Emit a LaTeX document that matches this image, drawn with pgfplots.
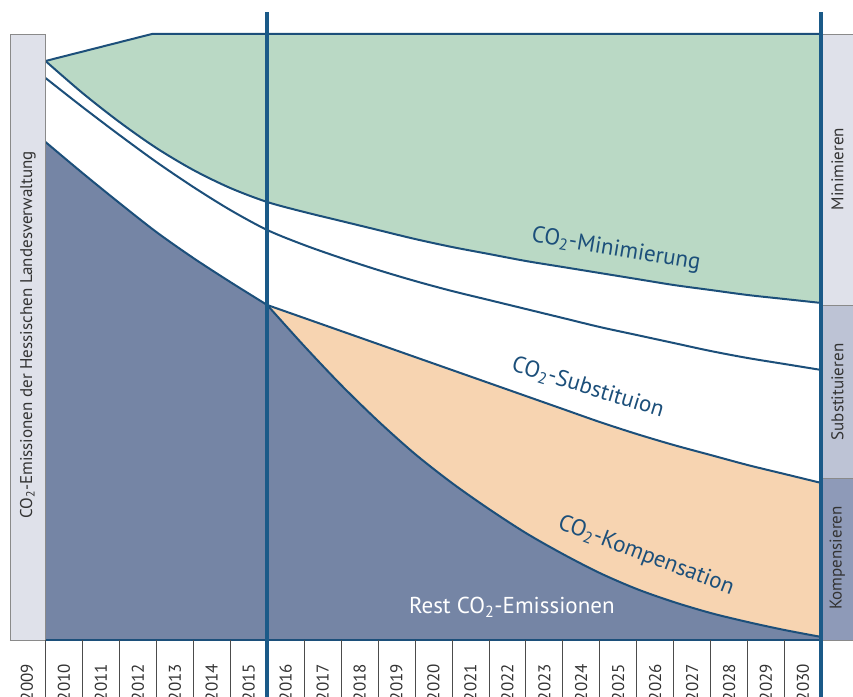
\documentclass[border=0pt]{standalone}
\usepackage{fontspec}
\setmainfont{PT Sans}
\usepackage{pgfplots}
\pgfplotsset{compat=1.18}
\usepgfplotslibrary{fillbetween}
\definecolor{cgreen}{HTML}{BAD9C5}
\definecolor{corange}{HTML}{F7D4B1}
\definecolor{cblue}{HTML}{7585A5}
\definecolor{lc}{HTML}{1C4F7A}
\definecolor{vline}{HTML}{1B5A88}
\definecolor{boxA}{HTML}{DFE1EA}
\definecolor{boxB}{HTML}{BDC3D5}
\definecolor{boxC}{HTML}{8E9AB8}
\definecolor{boxline}{HTML}{8A8A8A}
\definecolor{txt}{HTML}{333333}
\begin{document}
\begin{tikzpicture}
\begin{axis}[
  x=36.95pt, y=1pt,
  xmin=-1.2314, xmax=21.854, ymin=-57, ymax=640,
  axis line style={draw=none},
  ytick=\empty,
  xtick={-0.5,0.5,1.5,2.5,3.5,4.5,5.5,6.5,7.5,8.5,9.5,10.5,11.5,12.5,13.5,14.5,15.5,16.5,17.5,18.5,19.5,20.5},
  xticklabels={\mbox{2009},\mbox{2010},\mbox{2011},\mbox{2012},\mbox{2013},\mbox{2014},\mbox{2015},\mbox{2016},\mbox{2017},\mbox{2018},\mbox{2019},\mbox{2020},\mbox{2021},\mbox{2022},\mbox{2023},\mbox{2024},\mbox{2025},\mbox{2026},\mbox{2027},\mbox{2028},\mbox{2029},\mbox{2030}},
  xtick style={draw=none},
  xticklabel style={rotate=90, anchor=east, inner sep=0pt, text=txt, font=\fontsize{17}{17}\selectfont},
  xticklabel shift=-33pt,
  clip=false,
]
% boundaries (named)
\addplot[name path=top, draw=none] coordinates {(0,579) (2.88,606) (21,606)};
\addplot[name path=gb, draw=none, smooth] coordinates {(0,579) (1,547) (2,518) (3,492) (4,470) (5,452) (6,438) (7,428) (8,419) (9,410) (10,401) (11,393) (12,386) (13,379) (14,373) (15,367) (16,361) (17,355) (18,350) (19,345) (20,341) (21,337)};
\addplot[name path=lthree, draw=none, smooth] coordinates {(6,335) (7,322) (8,309) (9,296) (10,283) (11,270) (12,257) (13,244) (14,231) (15,218) (16,206) (17,195) (18,185) (19,175) (20,166) (21,157)};
\addplot[name path=bbone, draw=none, smooth] coordinates {(0,498) (1,467) (2,437) (3,408) (4,382) (5,358) (6,335)};
\addplot[name path=bbtwo, draw=none, smooth] coordinates {(6,335) (7,294) (8,255) (9,219) (10,186) (11,157) (12,131) (13,107) (14,86) (15,67) (16,51) (17,38) (18,27) (19,18) (20,10) (21,3)};
\addplot[name path=baseone, draw=none] coordinates {(0,0) (6,0)};
\addplot[name path=basetwo, draw=none] coordinates {(6,0) (21,0)};
% fills
\addplot[fill=cgreen, draw=none] fill between[of=top and gb];
\addplot[fill=corange, draw=none] fill between[of=lthree and bbtwo];
\addplot[fill=cblue, draw=none] fill between[of=bbone and baseone];
\addplot[fill=cblue, draw=none] fill between[of=bbtwo and basetwo];
% lines
\addplot[lc, line width=2pt, line join=round] coordinates {(0,579) (2.88,606) (21,606)};
\addplot[lc, line width=2pt, smooth] coordinates {(0,579) (1,547) (2,518) (3,492) (4,470) (5,452) (6,438) (7,428) (8,419) (9,410) (10,401) (11,393) (12,386) (13,379) (14,373) (15,367) (16,361) (17,355) (18,350) (19,345) (20,341) (21,337)};
\addplot[lc, line width=2pt, smooth] coordinates {(0,562) (1,533) (2,505) (3,478) (4,453) (5,430) (6,410) (7,395) (8,382) (9,370) (10,359) (11,349) (12,340) (13,331) (14,322) (15,313) (16,305) (17,297) (18,289) (19,282) (20,276) (21,270)};
\addplot[lc, line width=2pt, smooth] coordinates {(6,335) (7,322) (8,309) (9,296) (10,283) (11,270) (12,257) (13,244) (14,231) (15,218) (16,206) (17,195) (18,185) (19,175) (20,166) (21,157)};
\addplot[lc, line width=2pt, smooth] coordinates {(0,498) (1,467) (2,437) (3,408) (4,382) (5,358) (6,335)};
\addplot[lc, line width=2pt, smooth] coordinates {(6,335) (7,294) (8,255) (9,219) (10,186) (11,157) (12,131) (13,107) (14,86) (15,67) (16,51) (17,38) (18,27) (19,18) (20,10) (21,3)};
% left box
\draw[fill=boxA, draw=boxline, line width=0.8pt] (axis cs:-0.9608,0) rectangle (axis cs:0,606);
\node[rotate=90, text=txt, font=\fontsize{17}{17}\selectfont] at (axis cs:-0.48,305) {CO\textsubscript{2}-Emissionen der Hessischen Landesverwaltung};
% right boxes
\fill[boxA] (axis cs:21,335) rectangle (axis cs:21.9,606);
\fill[boxB] (axis cs:21,162) rectangle (axis cs:21.9,335);
\fill[boxC] (axis cs:21,0) rectangle (axis cs:21.9,162);
\draw[boxline, line width=0.8pt] (axis cs:21,606) -- (axis cs:21.9,606);
\draw[boxline, line width=0.8pt] (axis cs:21,335) -- (axis cs:21.9,335);
\draw[boxline, line width=0.8pt] (axis cs:21,162) -- (axis cs:21.9,162);
\node[rotate=90, text=txt, font=\fontsize{17}{17}\selectfont] at (axis cs:21.43,471) {Minimieren};
\node[rotate=90, text=txt, font=\fontsize{17}{17}\selectfont] at (axis cs:21.43,248) {Substituieren};
\node[rotate=90, text=txt, font=\fontsize{17}{17}\selectfont] at (axis cs:21.43,82) {Kompensieren};
% bottom lines
\draw[boxline, line width=0.8pt] (axis cs:-0.9608,0) -- (axis cs:21.9,0);
\draw[lc, line width=2pt] (axis cs:0,0) -- (axis cs:21,0);
\pgfplotsinvokeforeach{0,1,2,3,4,5,7,8,9,10,11,12,13,14,15,16,17,18,19,20}{
  \draw[black!70, line width=0.8pt] (axis cs:#1,0) -- (axis cs:#1,-60);
}
% thick vertical lines
\draw[vline, line width=4pt] (axis cs:6,-60) -- (axis cs:6,628);
\draw[vline, line width=4pt] (axis cs:21,-60) -- (axis cs:21,628);
% labels
\node[rotate=-9.5, text=lc, font=\fontsize{23}{23}\selectfont] at (axis cs:15.44,390) {CO\textsubscript{2}-Minimierung};
\node[rotate=-17, text=lc, font=\fontsize{23}{23}\selectfont] at (axis cs:14.68,252) {CO\textsubscript{2}-Substituion};
\node[rotate=-21, text=lc, font=\fontsize{23}{23}\selectfont] at (axis cs:16.25,84) {CO\textsubscript{2}-Kompensation};
\node[anchor=base, text=white, font=\fontsize{23}{23}\selectfont] at (axis cs:12.62,26) {Rest CO\textsubscript{2}-Emissionen};
\coordinate (BL) at (axis cs:-1.2314,-57);
\coordinate (TR) at (axis cs:21.854,640);
\end{axis}
\pgfresetboundingbox
\path[use as bounding box] (BL) rectangle (TR);
\end{tikzpicture}
\end{document}
